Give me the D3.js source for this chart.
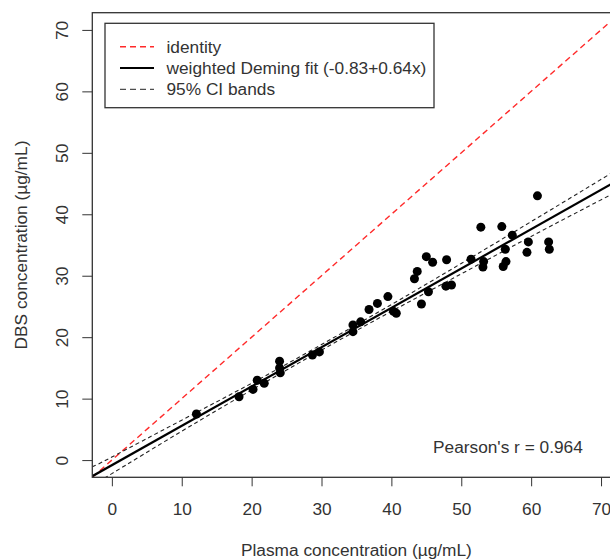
<!DOCTYPE html>
<html>
<head>
<meta charset="utf-8">
<script src="https://cdn.jsdelivr.net/npm/d3@7"></script>
<style>
  body { margin: 0; background: #fff; }
  text { font-family: Arial, "Liberation Sans", sans-serif; fill: #222; }
</style>
</head>
<body>
<svg id="chart" width="610" height="560"></svg>
<script>
// plasma (x) vs DBS (y) concentrations, ug/mL
const plasma = [12.1, 18.2, 20.2, 20.8, 21.8, 24.0, 24.0, 24.1, 28.7, 29.7,
  34.5, 34.5, 35.6, 36.8, 38.0, 39.5, 40.3, 40.7, 43.3, 43.7,
  44.3, 45.3, 45.0, 45.9, 47.9, 47.8, 48.6, 51.4, 52.8, 53.2,
  53.1, 55.8, 56.3, 56.4, 56.0, 57.3, 59.6, 59.4, 62.5, 62.6, 60.9];
const dbs = [7.5, 10.3, 11.5, 13.0, 12.5, 16.1, 15.0, 14.2, 17.1, 17.6,
  22.0, 20.9, 22.5, 24.5, 25.5, 26.6, 24.2, 23.9, 29.5, 30.7,
  25.4, 27.4, 33.1, 32.2, 32.6, 28.3, 28.5, 32.7, 37.9, 32.3,
  31.4, 38.0, 34.3, 32.3, 31.5, 36.6, 35.5, 33.8, 35.5, 34.3, 43.0];

const fitIntercept = -0.83;
const fitSlope = 0.64;

// 95% CI bands
const ciX = [-2.8, 0, 10, 20, 30, 40, 50, 60, 72.8];
const ciLower = [-4.1, -2.2, 4.7, 11.4, 17.9, 24.2, 30.3, 36.4, 44.0];
const ciUpper = [-1.1, 0.5, 6.5, 12.5, 18.8, 25.3, 32.0, 38.8, 47.6];

const xTicks = [0, 10, 20, 30, 40, 50, 60, 70];
const yTicks = [0, 10, 20, 30, 40, 50, 60, 70];
const legendLabels = ["identity", "weighted Deming fit (-0.83+0.64x)", "95% CI bands"];
const pearsonText = "Pearson's r = 0.964";

const svg = d3.select("#chart");
const mLeft = 92.3, mRight = 620.6, mTop = 12.7, mBottom = 477.3;
const fs = 17.3;

const x = d3.scaleLinear().domain([-2.8, 72.8]).range([mLeft, mRight]);
const y = d3.scaleLinear().domain([-2.8, 72.8]).range([mBottom, mTop]);

svg.append("clipPath").attr("id", "plotclip")
  .append("rect")
  .attr("x", mLeft).attr("y", mTop)
  .attr("width", mRight - mLeft).attr("height", mBottom - mTop);

const plot = svg.append("g").attr("clip-path", "url(#plotclip)");

// identity line
plot.append("line")
  .attr("x1", x(-2.8)).attr("y1", y(-2.8))
  .attr("x2", x(72.8)).attr("y2", y(72.8))
  .attr("stroke", "#ff2a2a").attr("stroke-width", 1.4)
  .attr("stroke-dasharray", "6,4");

// CI bands
const band = d3.line().x((d, i) => x(ciX[i])).y(d => y(d)).curve(d3.curveNatural);
[ciLower, ciUpper].forEach(arr => {
  plot.append("path")
    .attr("d", band(arr))
    .attr("fill", "none")
    .attr("stroke", "#222").attr("stroke-width", 1.1)
    .attr("stroke-dasharray", "4,3");
});

// Deming fit
plot.append("line")
  .attr("x1", x(-2.8)).attr("y1", y(fitIntercept + fitSlope * -2.8))
  .attr("x2", x(72.8)).attr("y2", y(fitIntercept + fitSlope * 72.8))
  .attr("stroke", "#000").attr("stroke-width", 2.2);

// points
plot.selectAll("circle.pt")
  .data(plasma)
  .enter().append("circle")
  .attr("class", "pt")
  .attr("cx", d => x(d))
  .attr("cy", (d, i) => y(dbs[i]))
  .attr("r", 4.5)
  .attr("fill", "#000");

// axes
const xAxis = d3.axisBottom(x).tickValues(xTicks).tickSize(9).tickPadding(16);
const gx = svg.append("g")
  .attr("transform", `translate(0,${mBottom})`)
  .call(xAxis);
gx.select(".domain").remove();
gx.selectAll("line").attr("stroke", "#333");
gx.selectAll("text").attr("font-size", fs).style("fill", "#333");

const yAxis = d3.axisLeft(y).tickValues(yTicks).tickSize(10);
const gy = svg.append("g")
  .attr("transform", `translate(${mLeft},0)`)
  .call(yAxis);
gy.select(".domain").remove();
gy.selectAll("line").attr("stroke", "#333");
gy.selectAll("text")
  .attr("font-size", fs).style("fill", "#333")
  .attr("text-anchor", "middle")
  .attr("x", 0).attr("dy", 0)
  .attr("transform", "translate(-30,0) rotate(-90)")
  .attr("dominant-baseline", "central");

// plot box
svg.append("rect")
  .attr("x", mLeft).attr("y", mTop)
  .attr("width", mRight - mLeft).attr("height", mBottom - mTop)
  .attr("fill", "none").attr("stroke", "#333").attr("stroke-width", 1.3);

// axis titles
svg.append("text")
  .attr("x", (mLeft + mRight) / 2).attr("y", 556)
  .attr("text-anchor", "middle").attr("font-size", fs).style("fill", "#333")
  .text("Plasma concentration (µg/mL)");

svg.append("text")
  .attr("transform", `translate(27,${(mTop + mBottom) / 2}) rotate(-90)`)
  .attr("text-anchor", "middle").attr("font-size", fs).style("fill", "#333")
  .text("DBS concentration (µg/mL)");

// legend
const lg = svg.append("g");
lg.append("rect")
  .attr("x", 105).attr("y", 23.3).attr("width", 329).attr("height", 84.4)
  .attr("fill", "#fff").attr("stroke", "#333").attr("stroke-width", 1.3);
const legendStyle = [
  { stroke: "#ff2a2a", width: 1.4, dash: "6,4" },
  { stroke: "#000", width: 2.2, dash: null },
  { stroke: "#222", width: 1, dash: "6,4" }
];
legendLabels.forEach((lab, i) => {
  const cy = 46.7 + i * 21.3;
  lg.append("line")
    .attr("x1", 120).attr("x2", 154).attr("y1", cy).attr("y2", cy)
    .attr("stroke", legendStyle[i].stroke)
    .attr("stroke-width", legendStyle[i].width)
    .attr("stroke-dasharray", legendStyle[i].dash);
  lg.append("text")
    .attr("x", 166.5).attr("y", cy).attr("dy", "0.35em")
    .attr("font-size", fs).style("fill", "#333")
    .text(lab);
});

svg.append("text")
  .attr("x", 433).attr("y", 452.5)
  .attr("font-size", fs).style("fill", "#333")
  .text(pearsonText);
</script>
</body>
</html>
